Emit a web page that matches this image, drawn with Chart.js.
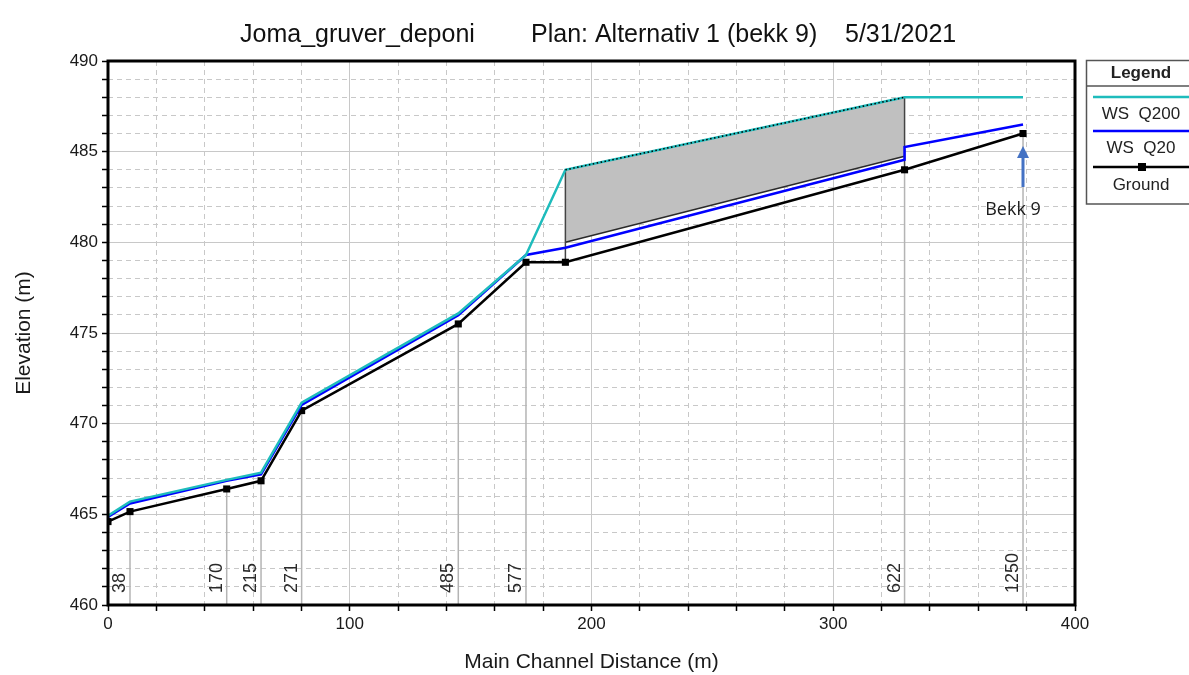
<!DOCTYPE html>
<html>
<head>
<meta charset="utf-8">
<title>Joma_gruver_deponi</title>
<script src="https://cdn.jsdelivr.net/npm/chart.js@4.4.1/dist/chart.umd.min.js"></script>
<style>
  html, body { margin: 0; padding: 0; background: #fff; }
</style>
</head>
<body>
<canvas id="profile" width="1189" height="675"></canvas>
<script>
// river stations along the main channel
const stationLabels = ["", "38", "170", "215", "271", "485", "577", "", "622", "1250"];
const distance = [0, 9.1, 49.1, 63.3, 80.1, 144.9, 172.9, 189.2, 329.5, 378.5];
const ground = [464.6, 465.15, 466.4, 466.85, 470.72, 475.5, 478.9, 478.9, 484.0, 486.0];
const wsQ200 = [464.92, 465.7, 466.9, 467.3, 471.16, 476.08, 479.3, 484.0, 488.0, 488.0];
// Q20 has two values at the culvert outlet (inside / outside)
const q20Distance = [0, 9.1, 49.1, 63.3, 80.1, 144.9, 172.9, 189.2, 329.5, 329.5, 378.5];
const wsQ20 = [464.85, 465.6, 466.85, 467.2, 471.03, 475.98, 479.3, 479.7, 484.55, 485.25, 486.5];
// culvert
const culvertDistance = [189.2, 329.5];
const culvertTop = [484.0, 488.0];
const culvertBottom = [480.0, 484.75];

const xTickLabels = [0, 100, 200, 300, 400];
const yTickLabels = [460, 465, 470, 475, 480, 485, 490];

const FONT = "'Liberation Sans', Arial, sans-serif";
Chart.defaults.font.family = FONT;
Chart.defaults.color = "#1a1a1a";

function pts(xs, ys) {
  return xs.map((x, i) => ({ x: x, y: ys[i] }));
}

const gridDash = (major) => (c) => (c.tick && major.includes(c.tick.value) ? [] : [5, 4]);

// station lines, labels, legend, title, frame
const profileDecor = {
  id: "profileDecor",
  beforeDatasetsDraw(chart) {
    const { ctx, chartArea, scales } = chart;
    ctx.save();
    ctx.strokeStyle = "#b4b4b4";
    ctx.lineWidth = 1.5;
    ctx.fillStyle = "#2a2a2a";
    ctx.font = "18px " + FONT;
    stationLabels.forEach((lab, i) => {
      if (!lab) return;
      const px = scales.x.getPixelForValue(distance[i]);
      const py = scales.y.getPixelForValue(ground[i]);
      ctx.beginPath();
      ctx.moveTo(px, py);
      ctx.lineTo(px, chartArea.bottom);
      ctx.stroke();
      ctx.save();
      ctx.translate(px - 10, chartArea.bottom - 12);
      ctx.rotate(-Math.PI / 2);
      ctx.textAlign = "left";
      ctx.textBaseline = "middle";
      ctx.fillText(lab, 0, 0);
      ctx.restore();
    });
    ctx.restore();
  },
  afterDraw(chart) {
    const { ctx, chartArea } = chart;
    ctx.save();
    // frame
    ctx.strokeStyle = "#000";
    ctx.lineWidth = 3;
    ctx.strokeRect(chartArea.left, chartArea.top, chartArea.right - chartArea.left, chartArea.bottom - chartArea.top);

    // title
    ctx.fillStyle = "#111";
    ctx.font = "25px " + FONT;
    ctx.textBaseline = "alphabetic";
    ctx.textAlign = "left";
    ctx.fillText("Joma_gruver_deponi", 240, 42);
    ctx.fillText("Plan: Alternativ 1 (bekk 9)", 531, 42);
    ctx.fillText("5/31/2021", 845, 42);

    // legend
    ctx.strokeStyle = "#555";
    ctx.lineWidth = 1.5;
    ctx.strokeRect(1086.5, 60.5, 112, 143.5);
    ctx.beginPath();
    ctx.moveTo(1086.5, 86);
    ctx.lineTo(1189, 86);
    ctx.stroke();
    ctx.fillStyle = "#222";
    ctx.textAlign = "center";
    ctx.textBaseline = "middle";
    ctx.font = "bold 17px " + FONT;
    ctx.fillText("Legend", 1141, 73);
    const rows = [
      { y: 97, color: "#1ebcbc", text: "WS  Q200", ty: 114 },
      { y: 131, color: "#0000ff", text: "WS  Q20", ty: 148 },
      { y: 167, color: "#000", text: "Ground", ty: 185, marker: true }
    ];
    ctx.font = "17px " + FONT;
    rows.forEach((r) => {
      ctx.strokeStyle = r.color;
      ctx.lineWidth = 2.5;
      ctx.beginPath();
      ctx.moveTo(1093, r.y);
      ctx.lineTo(1189, r.y);
      ctx.stroke();
      if (r.marker) {
        ctx.fillStyle = "#000";
        ctx.fillRect(1138, r.y - 4, 8, 8);
      }
      ctx.fillStyle = "#222";
      ctx.fillText(r.text, 1141, r.ty);
    });

    // Bekk 9 annotation
    ctx.fillStyle = "#4472c4";
    ctx.fillRect(1021.5, 157, 3, 30);
    ctx.beginPath();
    ctx.moveTo(1017, 158);
    ctx.lineTo(1029, 158);
    ctx.lineTo(1023, 146);
    ctx.closePath();
    ctx.fill();
    ctx.fillStyle = "#1a1a1a";
    ctx.font = "18px 'Open Sans', sans-serif";
    ctx.textAlign = "center";
    ctx.textBaseline = "alphabetic";
    ctx.fillText("Bekk 9", 1013, 215);
    ctx.restore();
  }
};

const datasets = [
  {
    label: "Culvert fill",
    data: pts(culvertDistance, culvertTop),
    borderWidth: 0,
    pointRadius: 0,
    backgroundColor: "#c0c0c0",
    fill: 1,
    order: 10
  },
  {
    label: "Culvert bottom",
    data: pts(culvertDistance, culvertBottom),
    borderColor: "#2a2a2a",
    borderWidth: 1.5,
    pointRadius: 0,
    fill: false,
    order: 9
  },
  {
    label: "Culvert left",
    data: [{ x: culvertDistance[0], y: culvertTop[0] }, { x: culvertDistance[0], y: ground[7] }],
    borderColor: "#444",
    borderWidth: 1.5,
    pointRadius: 0,
    order: 8
  },
  {
    label: "Culvert right",
    data: [{ x: culvertDistance[1], y: culvertTop[1] }, { x: culvertDistance[1], y: ground[8] }],
    borderColor: "#444",
    borderWidth: 1.5,
    pointRadius: 0,
    order: 8
  },
  {
    label: "Ground",
    data: pts(distance, ground),
    borderColor: "#000",
    backgroundColor: "#000",
    borderWidth: 2.5,
    pointStyle: "rect",
    pointRadius: 5,
    pointBorderWidth: 0,
    order: 3
  },
  {
    label: "WS  Q20",
    data: pts(q20Distance, wsQ20),
    borderColor: "#0000ff",
    borderWidth: 2.5,
    pointRadius: 0,
    order: 2
  },
  {
    label: "WS  Q200",
    data: pts(distance, wsQ200),
    borderColor: "#1ebcbc",
    borderWidth: 2.5,
    pointRadius: 0,
    order: 1
  },
  {
    label: "Culvert top",
    data: pts(culvertDistance, culvertTop),
    borderColor: "#000",
    borderWidth: 1.5,
    borderDash: [1.5, 2.5],
    pointRadius: 0,
    order: 0
  }
];

new Chart(document.getElementById("profile"), {
  type: "line",
  data: { datasets: datasets },
  options: {
    responsive: false,
    animation: false,
    events: [],
    layout: { padding: { left: 0, right: 114, top: 61, bottom: 0 } },
    plugins: {
      legend: { display: false },
      title: { display: false },
      tooltip: { enabled: false }
    },
    elements: { line: { tension: 0 } },
    scales: {
      x: {
        type: "linear",
        min: 0,
        max: 400,
        afterFit: (s) => { s.height = 70; },
        ticks: {
          stepSize: 20,
          autoSkip: false,
          maxRotation: 0,
          padding: 3,
          font: { size: 17 },
          callback: (v) => (xTickLabels.includes(v) ? String(v) : "")
        },
        grid: {
          color: "#c8c8c8",
          lineWidth: 1,
          tickLength: 6,
          tickColor: "#000",
          tickWidth: 1.5
        },
        border: { display: false, dash: gridDash(xTickLabels) },
        title: {
          display: true,
          text: "Main Channel Distance (m)",
          font: { size: 21 },
          padding: { top: 0, bottom: 0 }
        }
      },
      y: {
        type: "linear",
        min: 460,
        max: 490,
        afterFit: (s) => { s.width = 108; },
        ticks: {
          stepSize: 1,
          autoSkip: false,
          padding: 4,
          font: { size: 17 },
          callback: (v) => (yTickLabels.includes(v) ? String(v) : "")
        },
        grid: {
          color: "#c8c8c8",
          lineWidth: 1,
          tickLength: 6,
          tickColor: "#000",
          tickWidth: 1.5
        },
        border: { display: false, dash: gridDash(yTickLabels) },
        title: {
          display: true,
          text: "Elevation (m)",
          font: { size: 21 },
          padding: { top: 12, bottom: 0 }
        }
      }
    }
  },
  plugins: [profileDecor]
});
</script>
</body>
</html>
